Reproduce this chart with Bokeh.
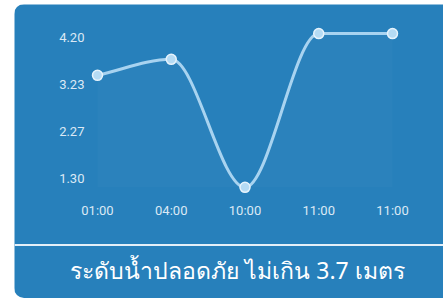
import numpy as np
from bokeh.plotting import figure
from bokeh.layouts import row, column
from bokeh.models import FixedTicker, NumeralTickFormatter, Label, Span, Spacer
from bokeh.embed import file_html
from bokeh.resources import INLINE

# ---- data ----
times = ["01:00", "04:00", "10:00", "11:00", "11:00"]
levels = [3.42, 3.75, 1.11, 4.28, 4.28]
y_ticks = [1.30, 2.27, 3.23, 4.20]
title_text = "ระดับน้ำปลอดภัย ไม่เกิน 3.7 เมตร"

CARD = "#2780bb"
LINE = "#a8d3f0"
TICK_TXT = "#dbe9f5"

xs = np.arange(len(levels), dtype=float)
ys = np.array(levels, dtype=float)

# monotone cubic (Fritsch-Carlson, chart.js style) control points
n = len(ys)
dk = np.diff(ys) / np.diff(xs)
mk = np.zeros(n)
mk[0] = dk[0]
mk[-1] = dk[-1]
for i in range(1, n - 1):
    if dk[i - 1] == 0 or dk[i] == 0 or np.sign(dk[i - 1]) != np.sign(dk[i]):
        mk[i] = 0.0
    else:
        mk[i] = (dk[i - 1] + dk[i]) / 2
for i in range(n - 1):
    if dk[i] == 0:
        mk[i] = mk[i + 1] = 0.0
        continue
    a = mk[i] / dk[i]
    b = mk[i + 1] / dk[i]
    s = a * a + b * b
    if s > 9:
        t = 3 / np.sqrt(s)
        mk[i] = a * t * dk[i]
        mk[i + 1] = b * t * dk[i]
h = np.diff(xs)
x0, y0 = xs[:-1], ys[:-1]
x1, y1 = xs[1:], ys[1:]
cx0 = x0 + h / 3
cy0 = y0 + mk[:-1] * h / 3
cx1 = x1 - h / 3
cy1 = y1 - mk[1:] * h / 3

tt = np.linspace(0, 1, 40)
cxs, cys = [], []
for i in range(n - 1):
    bx = ((1 - tt) ** 3) * x0[i] + 3 * ((1 - tt) ** 2) * tt * cx0[i] + 3 * (1 - tt) * tt ** 2 * cx1[i] + tt ** 3 * x1[i]
    by = ((1 - tt) ** 3) * y0[i] + 3 * ((1 - tt) ** 2) * tt * cy0[i] + 3 * (1 - tt) * tt ** 2 * cy1[i] + tt ** 3 * y1[i]
    cxs.append(bx)
    cys.append(by)
cx = np.concatenate(cxs)
cy = np.concatenate(cys)
base = ys.min()

W = 429
H = 294
p = figure(width=W, height=H, output_backend="svg", toolbar_location=None,
           x_range=(-1.1254, 4.6915), y_range=(-1.1814, 4.8804), min_border=0)
p.background_fill_color = CARD
p.border_fill_color = CARD
p.outline_line_color = None
p.grid.visible = False
p.styles = {"border-radius": "10px 0 0 10px", "overflow": "hidden"}

p.varea(x=cx, y1=base, y2=cy, fill_color="white", fill_alpha=0.02)
top = ys.max()
for k in range(14):
    L = base + (top - base) * k / 14
    p.varea(x=cx, y1=L, y2=np.maximum(cy, L), fill_color="white", fill_alpha=0.0042)

p.bezier(x0=x0, y0=y0, x1=x1, y1=y1, cx0=cx0, cy0=cy0, cx1=cx1, cy1=cy1,
         line_color=LINE, line_width=3)
p.scatter(xs, ys, size=10, fill_color="#b5dbf4", line_color="#e6f3fc", line_width=1.5)

for ax in (p.xaxis, p.yaxis):
    ax.axis_line_color = None
    ax.major_tick_line_color = None
    ax.minor_tick_line_color = None
    ax.major_tick_out = 0
    ax.major_tick_in = 0
    ax.major_label_text_color = TICK_TXT
    ax.major_label_text_font = "Roboto"
    ax.major_label_text_font_size = "13px"

p.xaxis.ticker = FixedTicker(ticks=list(range(len(times))))
p.xaxis.major_label_overrides = {i: t for i, t in enumerate(times)}
p.xaxis.major_label_standoff = 8
p.xaxis.fixed_location = 0.9423
p.yaxis.ticker = FixedTicker(ticks=y_ticks)
p.yaxis.formatter = NumeralTickFormatter(format="0.00")
p.yaxis.major_label_standoff = 6
p.yaxis.fixed_location = -0.0949

p.add_layout(Span(location=-0.0784, dimension="width", line_color="#e4eff8", line_width=2))
p.add_layout(Label(x=1.898, y=-0.604, text=title_text, text_align="center", text_baseline="middle",
                   text_color="white", text_font="Noto Sans", text_font_size="23px"))

layout = column(Spacer(width=W, height=4),
                row(Spacer(width=14, height=H), p, spacing=0),
                spacing=0)

open("out.html", "w").write(file_html(layout, INLINE))
